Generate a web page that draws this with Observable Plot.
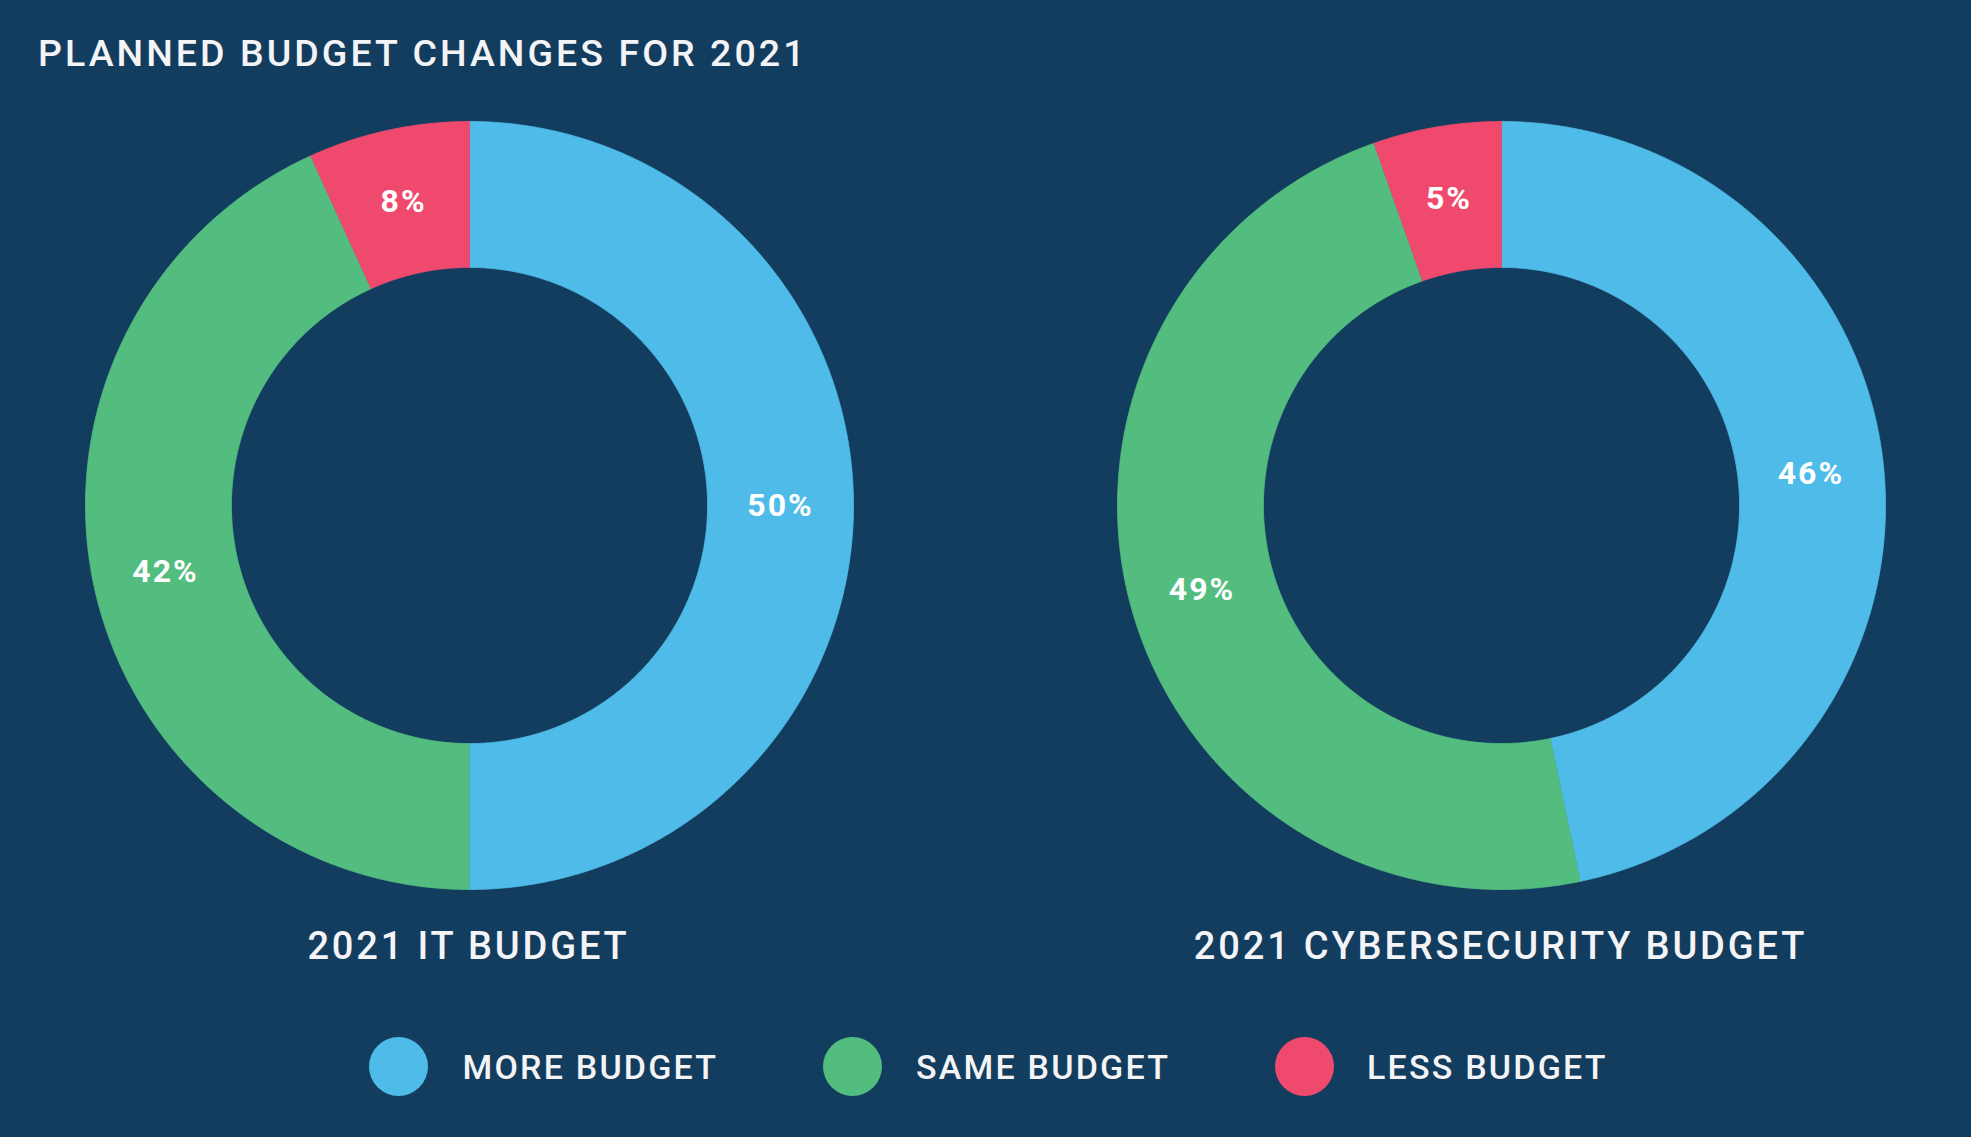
<!DOCTYPE html>
<html>
<head>
<meta charset="utf-8">
<script src="https://cdn.jsdelivr.net/npm/d3@7"></script>
<script src="https://cdn.jsdelivr.net/npm/@observablehq/plot@0.6"></script>
<style>
html,body{margin:0;padding:0;background:#133d5e;}
body{width:1971px;height:1137px;position:relative;overflow:hidden;font-family:Roboto,"Noto Sans",sans-serif;color:#f4f4f6;}
.abs{position:absolute;white-space:nowrap;line-height:1;}
#title{left:38px;top:35px;font-size:37.5px;font-weight:500;letter-spacing:3.05px;}
.sub{top:927px;font-size:38px;font-weight:500;letter-spacing:2.85px;transform:translateX(-50%);}
.donut{position:absolute;top:121px;}
.donut text{letter-spacing:2px;}
.sw{position:absolute;width:59px;height:59px;border-radius:50%;top:1037px;}
.lg{top:1050px;font-size:34px;font-weight:500;letter-spacing:2.2px;}
</style>
</head>
<body>
<script>
// ---- data ----
const title = "PLANNED BUDGET CHANGES FOR 2021";
const categories = ["MORE BUDGET", "SAME BUDGET", "LESS BUDGET"];
const colors = ["#4fbbe8", "#53bd7f", "#ef4a6e"];
const chartNames = ["2021 IT BUDGET", "2021 CYBERSECURITY BUDGET"];
// printed percentages
const itValues = [50, 42, 8];
const cyberValues = [46, 49, 5];
// slice sizes as drawn in the picture (percent of the ring)
const itShares = [50, 43.2, 6.8];
const cyberShares = [46.7, 47.9, 5.4];

// ---- layout ----
const R = 384;            // outer radius px
const innerFrac = 0.62;   // inner radius / outer radius
const centersX = [468.5, 1500.5];
const legendX = [398, 852, 1304];
const legendTextX = [462.5, 916, 1367];

function donutData(values, shares) {
  const total = d3.sum(shares);
  const rows = [], labels = [];
  let cum = 0;
  shares.forEach((v, i) => {
    const a0 = cum / total * 2 * Math.PI;
    const a1 = (cum + v) / total * 2 * Math.PI;
    const n = Math.max(4, Math.ceil((a1 - a0) / (Math.PI / 360)));
    for (let k = 0; k <= n; k++) {
      const a = a0 + (a1 - a0) * k / n;
      rows.push({cat: categories[i], x: Math.sin(a), y: Math.cos(a)});
    }
    for (let k = n; k >= 0; k--) {
      const a = a0 + (a1 - a0) * k / n;
      rows.push({cat: categories[i], x: innerFrac * Math.sin(a), y: innerFrac * Math.cos(a)});
    }
    const am = (a0 + a1) / 2, rm = (1 + innerFrac) / 2;
    labels.push({text: values[i] + "%", x: rm * Math.sin(am), y: rm * Math.cos(am)});
    cum += v;
  });
  return {rows, labels};
}

function donut(values, shares) {
  const {rows, labels} = donutData(values, shares);
  return Plot.plot({
    width: 2 * R, height: 2 * R, margin: 0,
    style: {background: "transparent", fontFamily: "Roboto, sans-serif", overflow: "visible"},
    x: {domain: [-1, 1], axis: null},
    y: {domain: [-1, 1], axis: null},
    color: {domain: categories, range: colors},
    marks: [
      Plot.line(rows, {x: "x", y: "y", z: "cat", fill: "cat", stroke: "cat", strokeWidth: 0.8}),
      Plot.text(labels, {x: "x", y: "y", text: "text", fill: "white", fontSize: 32, fontWeight: 700})
    ]
  });
}

const t = document.createElement("div");
t.className = "abs"; t.id = "title"; t.textContent = title;
document.body.appendChild(t);

[[itValues, itShares], [cyberValues, cyberShares]].forEach(([vals, shares], i) => {
  const wrap = document.createElement("div");
  wrap.className = "donut";
  wrap.style.left = (centersX[i] - R) + "px";
  wrap.appendChild(donut(vals, shares));
  document.body.appendChild(wrap);
  const s = document.createElement("div");
  s.className = "abs sub";
  s.style.left = centersX[i] + "px";
  s.textContent = chartNames[i];
  document.body.appendChild(s);
});

categories.forEach((c, i) => {
  const sw = document.createElement("div");
  sw.className = "sw";
  sw.style.left = (legendX[i] - 29.5) + "px";
  sw.style.background = colors[i];
  document.body.appendChild(sw);
  const lt = document.createElement("div");
  lt.className = "abs lg";
  lt.style.left = legendTextX[i] + "px";
  lt.textContent = c;
  document.body.appendChild(lt);
});
</script>
</body>
</html>
